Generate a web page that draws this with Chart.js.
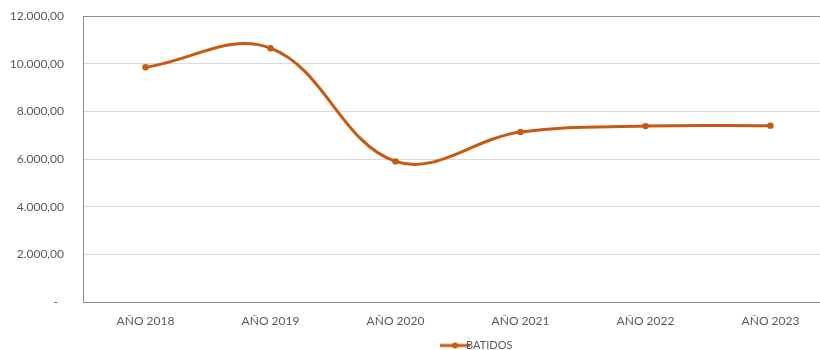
<!DOCTYPE html>
<html lang="es">
<head>
<meta charset="UTF-8">
<title>Batidos</title>
<script src="https://cdn.jsdelivr.net/npm/chart.js"></script>
<style>
  html, body { margin: 0; padding: 0; background: #fff; overflow: hidden; }
  .wrap { width: 962px; height: 361px; }
</style>
</head>
<body>
<div class="wrap"><canvas id="chart" width="962" height="361"></canvas></div>
<script>
const years = ['AÑO 2018', 'AÑO 2019', 'AÑO 2020', 'AÑO 2021', 'AÑO 2022', 'AÑO 2023'];
const batidos = [9850, 10650, 5900, 7130, 7380, 7400];
const yTicks = [0, 2000, 4000, 6000, 8000, 10000, 12000];

const orange = '#C55A11';
const textGray = '#595959';

function fmt(v) {
  if (v === 0) return '-  ';
  return v.toLocaleString('de-DE', { minimumFractionDigits: 2, maximumFractionDigits: 2 });
}

// legend marker: line with a dot, like excel
const marker = document.createElement('canvas');
marker.width = 30; marker.height = 8;
(function () {
  const c = marker.getContext('2d');
  c.strokeStyle = orange; c.lineWidth = 3;
  c.beginPath(); c.moveTo(0, 4); c.lineTo(30, 4); c.stroke();
  c.fillStyle = orange;
  c.beginPath(); c.arc(15, 4, 3, 0, Math.PI * 2); c.fill();
})();

// plot area border
const frame = {
  id: 'frame',
  beforeDatasetsDraw(chart) {
    const { ctx, chartArea: a } = chart;
    ctx.save();
    ctx.strokeStyle = '#8c8c8c';
    ctx.lineWidth = 1;
    ctx.strokeRect(Math.round(a.left) + 0.5, Math.round(a.top) + 0.5, Math.round(a.right - a.left), Math.round(a.bottom - a.top));
    ctx.restore();
  }
};

Chart.defaults.font.family = 'Lato, "Open Sans", sans-serif';
Chart.defaults.font.size = 12;
Chart.defaults.color = textGray;

new Chart(document.getElementById('chart'), {
  type: 'line',
  data: {
    labels: years,
    datasets: [{
      label: 'BATIDOS',
      data: batidos,
      borderColor: orange,
      backgroundColor: orange,
      borderWidth: 3,
      pointRadius: 3.2,
      pointBorderWidth: 0,
      tension: 0.38,
      fill: false
    }]
  },
  options: {
    responsive: false,
    animation: false,
    layout: { padding: { top: 16, left: 0, right: 0, bottom: 0 } },
    plugins: {
      tooltip: { enabled: false },
      legend: {
        position: 'bottom',
        labels: {
          usePointStyle: true,
          pointStyle: marker,
          padding: 6,
          font: { size: 11 },
          generateLabels(chart) {
            return [{ text: 'BATIDOS', pointStyle: marker, fillStyle: orange, strokeStyle: orange, lineWidth: 0, datasetIndex: 0, fontColor: textGray }];
          }
        }
      }
    },
    scales: {
      x: {
        offset: true,
        afterFit(axis) { axis.height = 32; },
        grid: { display: false },
        border: { display: false },
        ticks: { padding: 4, maxRotation: 0, color: textGray }
      },
      y: {
        min: 0,
        max: 12000,
        afterBuildTicks(axis) { axis.ticks = yTicks.map(v => ({ value: v })); },
        afterFit(axis) { axis.width = 83; axis.paddingTop = 0; axis.paddingBottom = 0; },
        grid: { color: '#d9d9d9', drawTicks: false },
        border: { display: false },
        ticks: { padding: 19, callback: v => fmt(v), color: textGray }
      },
      // keeps room on the right so the plot runs past the crop like the original
      y2: {
        position: 'right',
        display: true,
        afterFit(axis) { axis.width = 129; },
        grid: { display: false },
        border: { display: false },
        ticks: { display: false }
      }
    }
  },
  plugins: [frame]
});
</script>
</body>
</html>
